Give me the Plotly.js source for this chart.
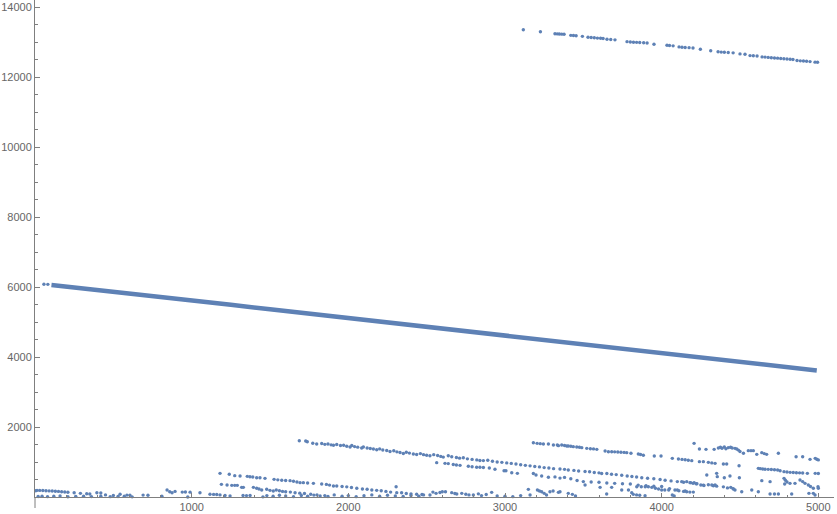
<!DOCTYPE html>
<html>
<head>
<meta charset="utf-8">
<script src="https://cdn.plot.ly/plotly-3.0.1.min.js"></script>
<style>
  html, body { margin: 0; padding: 0; background: #FFFFFF; }
  #chart { width: 837px; height: 514px; }
</style>
</head>
<body>
<div id="chart"></div>
<script>
// Values (ListPlot style scatter)

// main dense band
const leadX = [57, 82];
const leadY = [6080, 6076];
const mainX = [105, 250, 500, 750, 1000, 1250, 1500, 1750, 2000, 2250, 2500, 2750, 3000, 3250, 3500, 3750, 4000, 4250, 4500, 4750, 4990];
const mainY = [6058, 5990, 5860, 5735, 5615, 5490, 5365, 5240, 5120, 4990, 4860, 4730, 4600, 4470, 4350, 4225, 4100, 3985, 3865, 3740, 3615];

// upper band, top right
const topX = [3117, 3226, 3319, 3334, 3347, 3362, 3377, 3420, 3437, 3454, 3494, 3530, 3550, 3570, 3590, 3610, 3626, 3651, 3675, 3702,
  3779, 3800, 3820, 3840, 3860, 3885, 3907, 3951, 4034, 4050, 4073, 4111, 4130, 4150, 4175, 4200, 4247, 4313, 4360, 4380,
  4400, 4425, 4456, 4500, 4532, 4564, 4585, 4609, 4641, 4660, 4680, 4700, 4720, 4740, 4760, 4780, 4800, 4820, 4838, 4864,
  4885, 4905, 4925, 4947, 4979, 4995];
const topY = [13352, 13295, 13235, 13232, 13228, 13225, 13220, 13190, 13186, 13180, 13162, 13135, 13128, 13120, 13112, 13105, 13100, 13080, 13072, 13062,
  13010, 13000, 12995, 12990, 12985, 12978, 12970, 12934, 12905, 12900, 12890, 12860, 12852, 12845, 12838, 12830, 12792, 12752, 12720, 12712,
  12705, 12698, 12690, 12660, 12650, 12612, 12605, 12598, 12575, 12568, 12560, 12552, 12545, 12538, 12530, 12522, 12515, 12505, 12498, 12470,
  12462, 12455, 12448, 12440, 12425, 12420];

// lower band A (starts near 1700)
const bandAX = [1687, 1728, 1738, 1773, 1798, 1830, 1850, 1870, 1890, 1905, 1926, 1950, 1970, 1990, 2011, 2022, 2040, 2060, 2085, 2096,
  2120, 2140, 2160, 2181, 2200, 2220, 2245, 2266, 2290, 2310, 2330, 2351, 2370, 2390, 2415, 2436, 2460, 2480, 2500, 2521,
  2545, 2570, 2590, 2606, 2638, 2660, 2690, 2710, 2734, 2760, 2790, 2820, 2840, 2862, 2890, 2920, 2950, 2980, 3011, 3040,
  3070, 3100, 3130, 3160, 3190, 3220, 3250, 3280, 3310, 3351, 3380, 3404, 3440, 3470, 3511, 3540, 3570, 3600, 3617, 3650,
  3680, 3710, 3745, 3780, 3810, 3840, 3873, 3910, 3950, 3990, 4022, 4060, 4100, 4140, 4181, 4220, 4266, 4298, 4330, 4351,
  4394, 4420, 4458];
const bandAY = [1609, 1600, 1578, 1535, 1515, 1528, 1505, 1515, 1490, 1480, 1500, 1470, 1480, 1450, 1430, 1470, 1440, 1425, 1400, 1430,
  1400, 1385, 1370, 1350, 1375, 1345, 1330, 1300, 1320, 1290, 1270, 1245, 1280, 1255, 1230, 1215, 1240, 1210, 1195, 1180,
  1210, 1185, 1160, 1140, 1180, 1150, 1130, 1110, 1120, 1090, 1075, 1060, 1045, 1040, 1050, 1020, 1000, 990, 975, 960,
  945, 920, 905, 890, 870, 860, 840, 830, 810, 800, 790, 770, 760, 745, 730, 720, 700, 690, 670, 670,
  650, 640, 620, 600, 585, 570, 550, 535, 520, 500, 480, 460, 440, 420, 410, 380, 340, 350, 320, 310,
  290, 260, 230];

// sub-band under A
const bandA2X = [2564, 2617, 2638, 2670, 2690, 2713, 2766, 2790, 2819, 2840, 2862, 2900, 2936, 2994, 3006, 3043, 3079, 3181, 3198, 3234,
  3277, 3319, 3351, 3380, 3420, 3460, 3500, 3550, 3600, 3650, 3700, 3750, 3800, 3850, 3900, 3950, 4000, 4050, 4100, 4150, 4202];
const bandA2Y = [981, 962, 955, 930, 915, 905, 880, 865, 848, 850, 845, 830, 795, 752, 750, 695, 676, 670, 630, 600,
  565, 575, 540, 560, 520, 470, 440, 430, 420, 400, 390, 380, 370, 340, 320, 310, 300, 240, 200, 170, 140];

// band B (starts near 3200)
const bandBX = [3181, 3205, 3225, 3245, 3277, 3309, 3334, 3341, 3362, 3380, 3394, 3404, 3420, 3436, 3458, 3475, 3490, 3522, 3545, 3565,
  3586, 3639, 3660, 3681, 3700, 3720, 3740, 3760, 3777, 3804, 3851, 3865, 3883, 3953, 3996, 4068, 4107, 4130, 4150, 4170,
  4192, 4241, 4266, 4298, 4320, 4341, 4394, 4415, 4494, 4617, 4630, 4645, 4660, 4680, 4700, 4720, 4740, 4756, 4781, 4800,
  4820, 4840, 4860, 4880, 4900, 4930, 4980, 5000];
const bandBY = [1552, 1533, 1525, 1514, 1514, 1486, 1486, 1467, 1486, 1470, 1457, 1457, 1450, 1438, 1429, 1420, 1410, 1390, 1380, 1375,
  1362, 1314, 1295, 1295, 1290, 1285, 1280, 1275, 1267, 1248, 1229, 1215, 1191, 1171, 1171, 1105, 1086, 1075, 1065, 1050,
  1038, 1010, 1010, 990, 975, 962, 943, 943, 895, 819, 810, 800, 795, 790, 785, 780, 770, 752, 724, 715,
  705, 700, 695, 690, 685, 676, 676, 670];

// band C (starts near 4200)
const bandCX = [4207, 4241, 4283, 4335, 4362, 4375, 4385, 4400, 4410, 4425, 4440, 4450, 4468, 4479, 4490, 4500, 4522, 4553, 4570, 4585,
  4607, 4639, 4655, 4670, 4745, 4858, 4900, 4947, 4980, 4990, 5000];
const bandCY = [1533, 1371, 1362, 1362, 1400, 1420, 1395, 1430, 1380, 1410, 1420, 1400, 1390, 1371, 1340, 1300, 1248, 1324, 1324, 1324,
  1219, 1267, 1240, 1219, 1248, 1152, 1152, 1076, 1105, 1080, 1060];

// low bands E and F (start near 1200)
const bandEX = [1181, 1240, 1275, 1309, 1355, 1372, 1390, 1415, 1436, 1468, 1526, 1550, 1575, 1600, 1628, 1650, 1672, 1692, 1713, 1740,
  1777, 1830, 1860, 1880, 1905, 1926, 1960, 1990, 2020, 2054, 2090, 2120, 2150, 2181, 2210, 2240, 2270, 2309, 2340, 2370,
  2400, 2436, 2470, 2521];
const bandEY = [676, 648, 610, 600, 590, 580, 571, 552, 550, 533, 505, 490, 480, 470, 467, 450, 430, 410, 410, 400,
  390, 371, 360, 340, 314, 314, 300, 290, 270, 248, 230, 220, 200, 190, 180, 160, 140, 124, 120, 100,
  90, 80, 70, 57];
const bandFX = [1190, 1226, 1256, 1275, 1291, 1319, 1330, 1394, 1415, 1430, 1447, 1479, 1500, 1521, 1540, 1560, 1580, 1600, 1630, 1660,
  1690, 1720, 1760, 1800, 1850, 2305];
const bandFY = [362, 343, 333, 333, 333, 276, 276, 276, 248, 230, 200, 220, 190, 171, 200, 180, 160, 150, 140, 120,
  110, 100, 80, 60, 40, 295];

// points near the origin and along the bottom
const lowX = [5, 13, 30, 50, 70, 90, 110, 130, 150, 170, 190, 210, 250, 290, 330, 350, 395, 420, 450, 500,
  543, 587, 606, 20, 45, 80, 120, 160, 210, 260, 310, 360, 420, 480, 530, 570, 620, 690, 721, 810,
  843, 860, 875, 894, 940, 960, 990, 975, 1053, 1117, 1140, 1160, 1181, 1213, 1245, 1328, 1350, 1373, 1455, 1480,
  1520, 1560, 1600, 1650, 1700, 1740, 1780, 1820, 1870, 1910, 1960, 2000, 2050, 2100, 2150, 2200, 2250, 2300, 2350, 2400,
  2450, 2480, 2540, 2560, 2585, 2600, 2620, 2660, 2680, 2692, 2724, 2750, 2770, 2798, 2830, 2850, 2880, 2915, 2950, 3000,
  3050, 3100, 3149, 3160, 3207, 3220, 3234, 3250, 3265, 3287, 3307, 3341, 3351, 3404, 3430, 3450, 3511, 3607, 3649, 3681,
  3745, 3788, 3809, 3819, 3840, 3860, 3894, 3841, 3870, 3895, 3915, 3937, 3960, 3980, 4000, 4020, 4045, 4068, 4080, 4085,
  4110, 4128, 4140, 4160, 4180, 4160, 4185, 4200, 4207, 4225, 4250, 4270, 4288, 4320, 4341, 4351, 4355, 4400, 4436, 4496,
  4441, 4455, 4468, 4511, 4575, 4617, 4639, 4692, 4692, 4720, 4745, 4781, 4790, 4800, 4819, 4785, 4851, 4830, 4883, 4900,
  4915, 4936, 4950, 4968, 4940, 4968, 4998, 4979, 5000];
const lowY = [180, 190, 188, 185, 180, 175, 170, 165, 160, 150, 145, 135, 120, 105, 95, 85, 123, 115, 60, 45,
  78, 55, 50, 15, 25, 10, 20, 30, 8, 18, 25, 12, 20, 10, 15, 22, 5, 55, 50, 20,
  200, 150, 120, 160, 140, 145, 138, 0, 120, 80, 75, 70, 60, 45, 30, 45, 40, 45, 5, 40,
  20, 50, 30, 10, 45, 20, 55, 30, 15, 60, 25, 40, 10, 35, 60, 20, 50, 30, 15, 45,
  20, 60, 140, 105, 130, 152, 150, 124, 100, 85, 105, 80, 60, 57, 90, 40, 70, 133, 30, 20,
  10, 40, 219, 57, 200, 170, 152, 105, 57, 152, 171, 133, 150, 105, 76, 28, 343, 276, 86, 276,
  200, 200, 124, 76, 60, 50, 38, 295, 295, 295, 295, 276, 250, 230, 200, 200, 200, 57, 30, 200,
  180, 438, 160, 150, 140, 438, 410, 390, 410, 380, 343, 330, 629, 343, 343, 676, 581, 552, 600, 552,
  276, 240, 200, 152, 200, 152, 467, 438, 86, 86, 86, 533, 480, 430, 390, 371, 390, 86, 486, 440,
  390, 343, 300, 248, 105, 105, 295, 57, 250];

// axis tick values and labels
const xTickVals = [1000, 2000, 3000, 4000, 5000];
const xTickText = ['1000', '2000', '3000', '4000', '5000'];
const yTickVals = [2000, 4000, 6000, 8000, 10000, 12000, 14000];
const yTickText = ['2000', '4000', '6000', '8000', '10000', '12000', '14000'];

const pointColor = '#5E81B5';
const axisColor = '#7F7F7F';

function dots(x, y) {
    return {
        x: x,
        y: y,
        type: 'scatter',
        mode: 'markers',
        cliponaxis: false,
        marker: { color: pointColor, size: 3.4, line: { width: 0 } },
        hoverinfo: 'skip'
    };
}

const mainTrace = {
    x: mainX,
    y: mainY,
    type: 'scatter',
    mode: 'lines',
    line: { color: pointColor, width: 4.5 },
    hoverinfo: 'skip'
};

const traces = [
    mainTrace,
    dots(leadX, leadY),
    dots(topX, topY),
    dots(bandAX, bandAY),
    dots(bandA2X, bandA2Y),
    dots(bandBX, bandBY),
    dots(bandCX, bandCY),
    dots(bandEX, bandEY),
    dots(bandFX, bandFY),
    dots(lowX, lowY)
];

const layout = {
    width: 837,
    height: 514,
    margin: { l: 35, r: 3, t: 0, b: 17 },
    showlegend: false,
    hovermode: false,
    plot_bgcolor: '#FFFFFF',
    paper_bgcolor: '#FFFFFF',
    font: { family: 'Liberation Sans, Arial, sans-serif', size: 11, color: '#666666' },
    xaxis: {
        range: [0, 5100],
        showgrid: false,
        zeroline: false,
        showline: true,
        linecolor: axisColor,
        linewidth: 1,
        tickmode: 'array',
        tickvals: xTickVals,
        ticktext: xTickText,
        ticks: 'inside',
        ticklen: 4,
        tickcolor: axisColor,
        minor: { ticks: 'inside', ticklen: 2, tickcolor: axisColor, dtick: 200, tick0: 0, showgrid: false }
    },
    yaxis: {
        range: [0, 14200],
        showgrid: false,
        zeroline: false,
        showline: true,
        linecolor: axisColor,
        linewidth: 1,
        tickmode: 'array',
        tickvals: yTickVals,
        ticktext: yTickText,
        ticks: 'inside',
        ticklen: 5,
        tickcolor: axisColor,
        minor: { ticks: 'inside', ticklen: 3, tickcolor: axisColor, dtick: 500, tick0: 0, showgrid: false }
    },
    shapes: [
        // the vertical axis runs a bit below the horizontal one
        { type: 'line', xref: 'paper', yref: 'paper', x0: 0, x1: 0, y0: 0, y1: -11 / 497,
          line: { color: axisColor, width: 1 } }
    ]
};

Plotly.newPlot('chart', traces, layout, { displayModeBar: false, staticPlot: true });
</script>
</body>
</html>
